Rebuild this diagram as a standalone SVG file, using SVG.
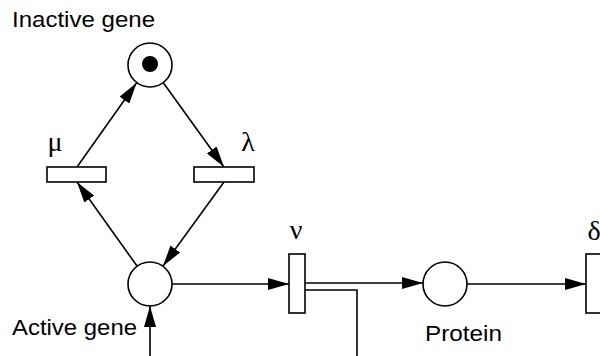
<svg xmlns="http://www.w3.org/2000/svg" width="600" height="356" viewBox="0 0 600 356">
<style>
.place{fill:#fff;stroke:#000;stroke-width:1.6}
.trans{fill:#fff;stroke:#000;stroke-width:1.6}
.edge{fill:none;stroke:#000;stroke-width:1.6}
.lbl{font-family:"Liberation Sans",Arial,sans-serif;font-size:22px;fill:#000}
.greek{font-family:"Liberation Serif","Times New Roman",serif;font-size:28px;fill:#000;text-anchor:middle}
</style>
<defs>
<marker id="ah" markerUnits="userSpaceOnUse" markerWidth="21" markerHeight="12" refX="21" refY="6" orient="auto">
<path d="M0,0 L21,6 L0,12 z" fill="#000"/>
</marker>
</defs>
<rect width="600" height="356" fill="#fff"/>
<g id="connectors">
<line class="edge" x1="77" y1="167" x2="136.5" y2="83" marker-end="url(#ah)"/>
<line class="edge" x1="163.5" y1="83" x2="224" y2="167" marker-end="url(#ah)"/>
<line class="edge" x1="137" y1="266" x2="77" y2="182" marker-end="url(#ah)"/>
<line class="edge" x1="224" y1="182" x2="163" y2="266" marker-end="url(#ah)"/>
<line class="edge" x1="172" y1="284" x2="289" y2="284" marker-end="url(#ah)"/>
<line class="edge" x1="305" y1="283" x2="423" y2="283" marker-end="url(#ah)"/>
<polyline class="edge" points="305,290 357,290 357,356"/>
<line class="edge" x1="467" y1="284" x2="586" y2="284" marker-end="url(#ah)"/>
<line class="edge" x1="150" y1="356" x2="150" y2="306" marker-end="url(#ah)"/>
</g>
<g id="inactive-gene">
<circle class="place" cx="150" cy="65" r="22"/>
<circle cx="150" cy="64" r="8" fill="#000"/>
<text class="lbl" x="12" y="27" textLength="143" lengthAdjust="spacingAndGlyphs">Inactive gene</text>
</g>
<g id="mu">
<rect class="trans" x="47" y="167" width="59" height="15"/>
<text class="greek" x="55" y="151">μ</text>
</g>
<g id="lambda">
<rect class="trans" x="194" y="167" width="60" height="15"/>
<text class="greek" x="248" y="151">λ</text>
</g>
<g id="active-gene">
<circle class="place" cx="150" cy="284" r="22"/>
<text class="lbl" x="12" y="335" textLength="125" lengthAdjust="spacingAndGlyphs">Active gene</text>
</g>
<g id="nu">
<rect class="trans" x="289" y="254" width="16" height="59"/>
<text class="greek" x="296" y="239">ν</text>
</g>
<g id="protein">
<circle class="place" cx="445" cy="284" r="22"/>
<text class="lbl" x="425" y="341" textLength="77" lengthAdjust="spacingAndGlyphs">Protein</text>
</g>
<g id="delta">
<rect class="trans" x="586" y="254" width="20" height="59"/>
<text class="greek" x="594" y="240">δ</text>
</g>
</svg>
